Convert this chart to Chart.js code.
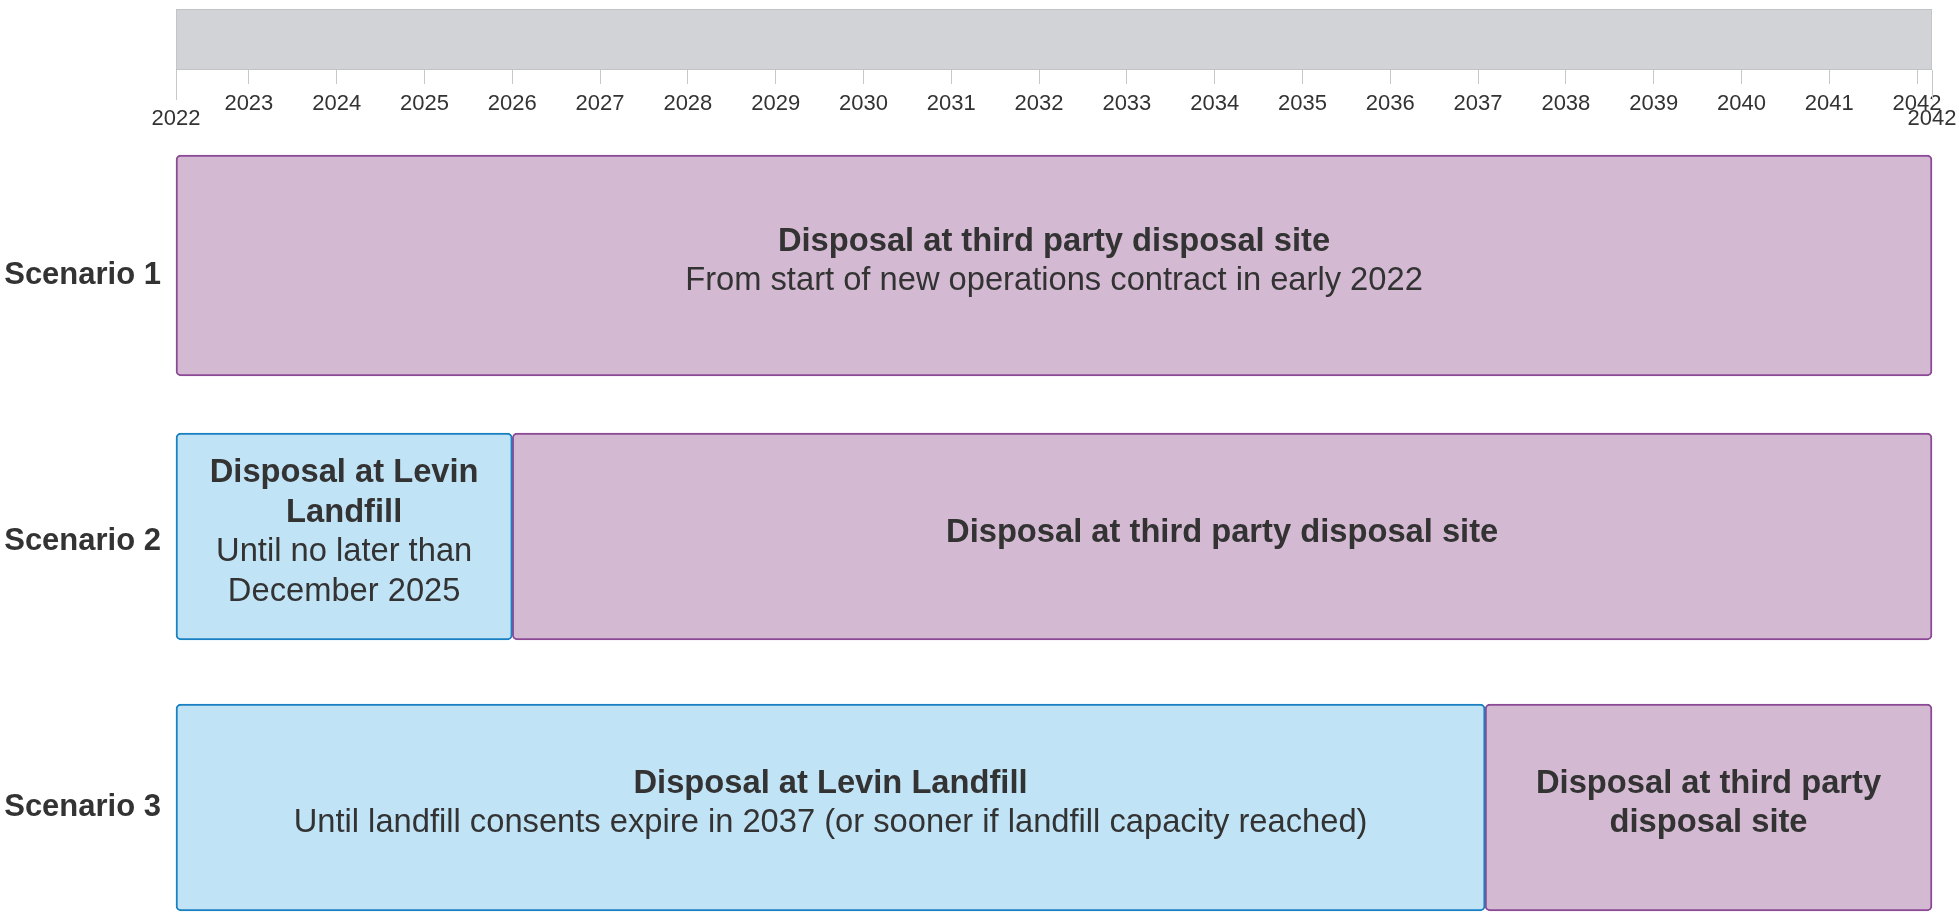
<!DOCTYPE html>
<html>
<head>
<meta charset="utf-8">
<script src="https://cdn.jsdelivr.net/npm/chart.js@4.4.1/dist/chart.umd.min.js"></script>
<style>
  html, body { margin: 0; padding: 0; background: #fff; }
  #wrap { width: 1959px; height: 916px; }
  canvas { display: block; }
</style>
</head>
<body>
<div id="wrap">
  <canvas id="timelineHeader" width="1959" height="131"></canvas>
  <canvas id="scenarioChart" width="1959" height="785"></canvas>
</div>
<script>
// timeline runs from early March 2022 to early March 2042
const timelineStart = 2022.17;
const timelineEnd = 2042.17;
const tickYears = [2023, 2024, 2025, 2026, 2027, 2028, 2029, 2030, 2031, 2032,
  2033, 2034, 2035, 2036, 2037, 2038, 2039, 2040, 2041, 2042];

const scenarios = ['Scenario 1', 'Scenario 2', 'Scenario 3'];
const levinRanges = [null, [2022.17, 2026.0], [2022.17, 2037.08]];
const thirdPartyRanges = [[2022.17, 2042.17], [2026.0, 2042.17], [2037.08, 2042.17]];

const levinTitles = [null, 'Disposal at Levin Landfill', 'Disposal at Levin Landfill'];
const levinNotes = [null, 'Until no later than December 2025',
  'Until landfill consents expire in 2037 (or sooner if landfill capacity reached)'];
const thirdPartyTitles = ['Disposal at third party disposal site', 'Disposal at third party disposal site',
  'Disposal at third party disposal site'];
const thirdPartyNotes = ['From start of new operations contract in early 2022', null, null];

const FONT = '"Liberation Sans", Arial, Helvetica, sans-serif';
const textColor = '#333333';
const levinFill = '#c1e3f6';
const levinBorder = '#1a80c2';
const thirdFill = '#d3bad2';
const thirdBorder = '#8c4a96';
Chart.defaults.font.family = FONT;
Chart.defaults.color = textColor;

function wrapText(ctx, text, maxWidth) {
  const words = text.split(' ');
  const lines = [];
  let line = '';
  words.forEach((word) => {
    const test = line ? line + ' ' + word : word;
    if (line && ctx.measureText(test).width > maxWidth) {
      lines.push(line);
      line = word;
    } else {
      line = test;
    }
  });
  if (line) lines.push(line);
  return lines;
}

const boxTextPlugin = {
  id: 'boxText',
  afterDatasetsDraw(chart) {
    const ctx = chart.ctx;
    const boldFont = 'bold 32.7px ' + FONT;
    const plainFont = '32.7px ' + FONT;
    const lineHeight = 39.5;
    chart.data.datasets.forEach((dataset, di) => {
      const meta = chart.getDatasetMeta(di);
      meta.data.forEach((bar, i) => {
        if (!dataset.data[i]) return;
        const { x, base, y } = bar.getProps(['x', 'base', 'y'], true);
        const cx = (x + base) / 2;
        const maxWidth = Math.abs(x - base) - 40;
        const lines = [];
        ctx.save();
        if (dataset.titles[i]) {
          ctx.font = boldFont;
          wrapText(ctx, dataset.titles[i], maxWidth).forEach((t) => lines.push([t, boldFont]));
        }
        if (dataset.notes[i]) {
          ctx.font = plainFont;
          wrapText(ctx, dataset.notes[i], maxWidth).forEach((t) => lines.push([t, plainFont]));
        }
        ctx.fillStyle = textColor;
        ctx.textAlign = 'center';
        ctx.textBaseline = 'middle';
        let ty = y - 4 - (lines.length - 1) * lineHeight / 2;
        lines.forEach(([t, f]) => {
          ctx.font = f;
          ctx.fillText(t, cx, ty);
          ty += lineHeight;
        });
        ctx.restore();
      });
    });
  }
};

// longer marks at the two ends of the timeline
const boundaryTicksPlugin = {
  id: 'boundaryTicks',
  afterDraw(chart) {
    const ctx = chart.ctx;
    const xScale = chart.scales.x;
    const top = chart.chartArea.bottom;
    ctx.save();
    ctx.strokeStyle = '#c6c7ca';
    ctx.lineWidth = 1;
    [timelineStart, timelineEnd].forEach((v) => {
      const px = Math.round(xScale.getPixelForValue(v)) + 0.5;
      ctx.beginPath();
      ctx.moveTo(px, top);
      ctx.lineTo(px, top + 30);
      ctx.stroke();
    });
    ctx.restore();
  }
};

new Chart(document.getElementById('timelineHeader'), {
  type: 'bar',
  data: {
    labels: ['Timeline'],
    datasets: [{
      data: [[timelineStart, timelineEnd]],
      backgroundColor: '#d1d3d6',
      borderColor: '#bdbec2',
      borderWidth: 1,
      borderSkipped: false,
      barPercentage: 1,
      categoryPercentage: 1,
    }],
  },
  options: {
    indexAxis: 'y',
    responsive: false,
    animation: false,
    layout: { padding: { left: 176, right: 27, top: 9, bottom: 0 } },
    plugins: { legend: { display: false }, tooltip: { enabled: false } },
    scales: {
      y: { display: false },
      x: {
        type: 'linear',
        position: 'bottom',
        min: timelineStart,
        max: timelineEnd,
        afterBuildTicks(scale) {
          scale.ticks = [timelineStart, ...tickYears, timelineEnd].map((v) => ({ value: v }));
        },
        afterFit(scale) {
          scale.height = 61;
          scale.paddingLeft = 0;
          scale.paddingRight = 0;
        },
        border: { display: false },
        grid: {
          drawOnChartArea: false,
          drawTicks: true,
          tickLength: 14,
          tickColor: '#c6c7ca',
        },
        ticks: {
          autoSkip: false,
          maxRotation: 0,
          padding: 12,
          color: textColor,
          font: { size: 22, lineHeight: 0.7 },
          callback(value) {
            return Number.isInteger(value) ? String(value) : ['', String(Math.floor(value))];
          },
        },
      },
    },
  },
  plugins: [boundaryTicksPlugin],
});

const onlyRow = (ranges, rows) => ranges.map((r, i) => (rows.includes(i) ? r : null));

new Chart(document.getElementById('scenarioChart'), {
  type: 'bar',
  data: {
    labels: scenarios,
    datasets: [
      {
        label: 'Disposal at Levin Landfill',
        data: levinRanges,
        titles: levinTitles,
        notes: levinNotes,
        backgroundColor: levinFill,
        borderColor: levinBorder,
        barThickness: 207,
      },
      {
        label: 'Disposal at third party disposal site',
        data: onlyRow(thirdPartyRanges, [0]),
        titles: thirdPartyTitles,
        notes: thirdPartyNotes,
        backgroundColor: thirdFill,
        borderColor: thirdBorder,
        barThickness: 221,
      },
      {
        label: 'Disposal at third party disposal site',
        data: onlyRow(thirdPartyRanges, [1, 2]),
        titles: thirdPartyTitles,
        notes: thirdPartyNotes,
        backgroundColor: thirdFill,
        borderColor: thirdBorder,
        barThickness: 207,
      },
    ],
  },
  options: {
    indexAxis: 'y',
    responsive: false,
    animation: false,
    layout: { padding: { left: 0, right: 27, top: 134.5, bottom: 108.5 } },
    datasets: {
      bar: {
        grouped: false,
        borderWidth: 2,
        borderRadius: 5,
        borderSkipped: false,
        clip: false,
      },
    },
    plugins: { legend: { display: false }, tooltip: { enabled: false } },
    scales: {
      x: { type: 'linear', display: false, min: timelineStart, max: timelineEnd },
      y: { type: 'category', display: false, offset: false },
      yLabels: {
        type: 'linear',
        position: 'left',
        reverse: true,
        offset: false,
        min: 0.961,
        max: 3.002,
        afterBuildTicks(scale) {
          scale.ticks = scenarios.map((s, i) => ({ value: i + 1 }));
        },
        afterFit(scale) { scale.width = 176; },
        grid: { display: false, drawTicks: false },
        border: { display: false },
        ticks: {
          padding: 15,
          color: textColor,
          font: { size: 31, weight: 'bold' },
          callback(value) { return scenarios[value - 1]; },
        },
      },
    },
  },
  plugins: [boxTextPlugin],
});
</script>
</body>
</html>
